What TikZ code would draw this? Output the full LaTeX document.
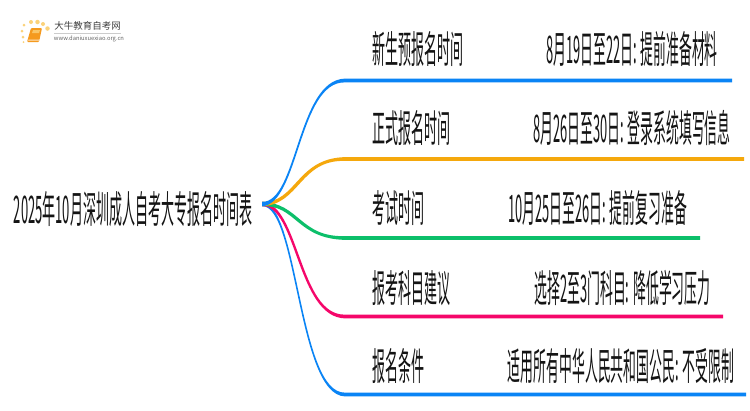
\documentclass[tikz,border=0pt]{standalone}
\usepackage{fontspec}
\usetikzlibrary{calc}
\setmainfont{Noto Sans CJK SC}
\newcommand{\stretched}[1]{\scalebox{0.65}[1.9]{#1}}
\newcommand{\stretchedd}[1]{\scalebox{0.643}[1.9]{#1}}
\definecolor{cblue}{HTML}{0A84F5}
\definecolor{corange}{HTML}{F5A80C}
\definecolor{cgreen}{HTML}{0CBF6A}
\definecolor{cpink}{HTML}{F5076A}
\definecolor{dotc}{HTML}{FBD27A}
\definecolor{bookc}{HTML}{F59A1E}
\tikzset{
  lab/.style={inner sep=0pt,anchor=center,text=black!92,font=\fontsize{20}{24}\selectfont},
  branchfill/.style={line width=0.2pt,line join=round},
  sundot/.style={circle,fill=dotc,inner sep=0pt,minimum size=#1},
}
% colour, end of curve, end of line, signed half spread of the control points
\newcommand{\branch}[4]{%
  \fill[#1,branchfill]
    ($(hub)+(0,-2.2)$) .. controls ($(hub)+(36-#4,-0.6)$) and ($(#2)+(-47-#4,-0.6)$) .. ($(#2)+(0,-1.9)$)
    -- ($(#3)+(0,-1.9)$) -- ($(#3)+(0,1.9)$) -- ($(#2)+(0,1.9)$)
    .. controls ($(#2)+(-47+#4,0.6)$) and ($(hub)+(36+#4,0.6)$) .. ($(hub)+(0,2.2)$) -- cycle;}
\begin{document}
\begin{tikzpicture}[x=1pt,y=-1pt]
\useasboundingbox[fill=white] (0,0) rectangle (750,410);
% logo
\node[sundot=3pt] (s1) at (23,37) {};
\node[sundot=3pt] (s2) at (22,31) {};
\node[sundot=3pt] (s3) at (24,25) {};
\node[sundot=4pt] (s4) at (31,22) {};
\node[sundot=4.5pt] (s5) at (37.5,22) {};
\node[sundot=4pt] (s6) at (43,24) {};
\node[sundot=4.5pt] (s7) at (47.5,28.5) {};
\node[sundot=2pt] (s8) at (23.5,42) {};
\fill[bookc,rounded corners=1pt] (31,28) -- (42,28) -- (39,42) -- (27,42) -- cycle;
\fill[white,opacity=.75] (28.5,39.5) -- (39.8,39.5) -- (39.6,40.5) -- (28.2,40.5) -- cycle;
\fill[dotc,opacity=.8] (33,30) -- (40,30) -- (39,33) -- (32,33) -- cycle;
\node[inner sep=0pt,anchor=center,text=black!75,font=\fontsize{9.5}{10}\selectfont] (logot) at (87.5,26) {大牛教育自考网};
\draw[black!20,line width=0.6pt] (54,33.5) -- (121,33.5);
\node[inner sep=0pt,anchor=center,text=black!60,font=\fontsize{5.8}{6}\selectfont] (logou) at (89,38.5) {www.daniuxuexiao.org.cn};
% root
\coordinate (hub) at (262,204);
\node[lab] (root) at (133,209) {\stretched{2025年10月深圳成人自考大专报名时间表}};
% bends and line ends
\coordinate (b1) at (345,80.5);  \coordinate (e1) at (732,80.5);
\coordinate (b2) at (345,159);   \coordinate (e2) at (744,159);
\coordinate (b3) at (345,238);   \coordinate (e3) at (700,238);
\coordinate (b4) at (345,316.5); \coordinate (e4) at (723,316.5);
\coordinate (b5) at (345,394.5); \coordinate (e5) at (746,394.5);
\branch{cblue}{b5}{e5}{-0.8}
\branch{cpink}{b4}{e4}{-1.2}
\branch{cgreen}{b3}{e3}{-1.8}
\branch{corange}{b2}{e2}{1.8}
\branch{cblue}{b1}{e1}{0.8}
% labels
\node[lab] (a1) at (418,49) {\stretched{新生预报名时间}};
\node[lab] (d1) at (632,49) {\stretchedd{8月19日至22日: 提前准备材料}};
\node[lab] (a2) at (411.5,128) {\stretched{正式报名时间}};
\node[lab] (d2) at (632,128) {\stretchedd{8月26日至30日: 登录系统填写信息}};
\node[lab] (a3) at (398.5,208) {\stretched{考试时间}};
\node[lab] (d3) at (597.5,208) {\stretchedd{10月25日至26日: 提前复习准备}};
\node[lab] (a4) at (411.5,288) {\stretched{报考科目建议}};
\node[lab] (d4) at (622.5,288) {\stretchedd{选择2至3门科目: 降低学习压力}};
\node[lab] (a5) at (398.5,366) {\stretched{报名条件}};
\node[lab] (d5) at (621,366) {\stretchedd{适用所有中华人民共和国公民: 不受限制}};
\end{tikzpicture}
\end{document}
